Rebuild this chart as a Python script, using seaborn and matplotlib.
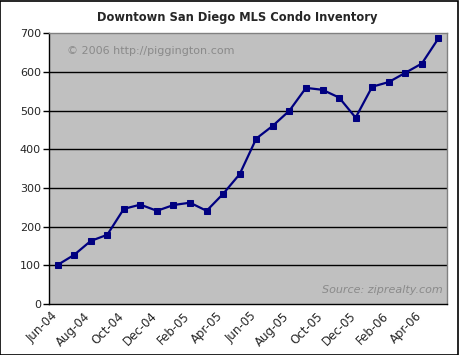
import numpy as np
import pandas as pd
import seaborn as sns
import matplotlib.pyplot as plt

# monthly condo inventory, Jun-04 .. May-06
months = ["Jun-04", "Jul-04", "Aug-04", "Sep-04", "Oct-04", "Nov-04",
          "Dec-04", "Jan-05", "Feb-05", "Mar-05", "Apr-05", "May-05",
          "Jun-05", "Jul-05", "Aug-05", "Sep-05", "Oct-05", "Nov-05",
          "Dec-05", "Jan-06", "Feb-06", "Mar-06", "Apr-06", "May-06"]
inventory = [101, 127, 163, 179, 246, 257, 241, 256, 262, 241, 285, 336,
             428, 461, 500, 559, 554, 534, 482, 562, 574, 598, 622, 687]
yticks = [0, 100, 200, 300, 400, 500, 600, 700]

df = pd.DataFrame({"idx": np.arange(len(months)), "month": months, "count": inventory})

sns.set_style("white")
plt.rcParams["font.family"] = ["DejaVu Sans"]

fig = plt.figure(figsize=(4.59, 3.55), dpi=100)
ax = fig.add_axes([0.1074, 0.1437, 0.8658, 0.7623])
ax.set_facecolor("#c0c0c0")

# horizontal gridlines
for v in yticks[1:-1]:
    ax.axhline(v, color="black", lw=1.0, zorder=1)

sns.lineplot(data=df, x="idx", y="count", ax=ax, color="#000080",
             lw=1.6, marker="s", markersize=5, markeredgecolor="#000080",
             zorder=3)

ax.set_xlim(-0.5, len(months) - 0.5)
ax.set_ylim(0, 700)
ax.set_yticks(yticks)
ax.set_yticklabels([str(v) for v in yticks], fontsize=8)

# category labels every 2 months, tick marks at the boundaries
ax.set_xticks(df["idx"][::2] - 0.4)
ax.set_xticklabels(months[::2], rotation=45, ha="right",
                   rotation_mode="anchor", fontsize=8.5)
ax.set_xticks(np.arange(-0.5, len(months), 2), minor=True)
ax.tick_params(axis="x", which="major", length=0, pad=4)
ax.tick_params(axis="x", which="minor", length=4, width=1, color="black",
               direction="out")
ax.tick_params(axis="y", length=4, width=1, color="black", direction="out",
               left=True, pad=2)
ax.set_xlabel("")
ax.set_ylabel("")

for side in ["left", "bottom"]:
    ax.spines[side].set_color("black")
    ax.spines[side].set_linewidth(1)
for side in ["top", "right"]:
    ax.spines[side].set_color("#808080")
    ax.spines[side].set_linewidth(1)

fig.text(0.517, 0.952, "Downtown San Diego MLS Condo Inventory",
         ha="center", va="center", fontsize=8.3, fontweight="bold")
ax.text(0.045, 0.935, "\u00a9 2006 http://piggington.com", transform=ax.transAxes,
        fontsize=8, color="#8a8a8a", ha="left", va="center")
ax.text(0.99, 0.05, "Source: ziprealty.com", transform=ax.transAxes,
        fontsize=8, color="#8a8a8a", style="italic", ha="right", va="center")

# outer chart border
fig.patches.append(plt.Rectangle((0.001, 0.001), 0.997, 0.996,
                                 transform=fig.transFigure, fill=False,
                                 edgecolor="black", lw=1.2))

fig.savefig("out.png", dpi=100)
